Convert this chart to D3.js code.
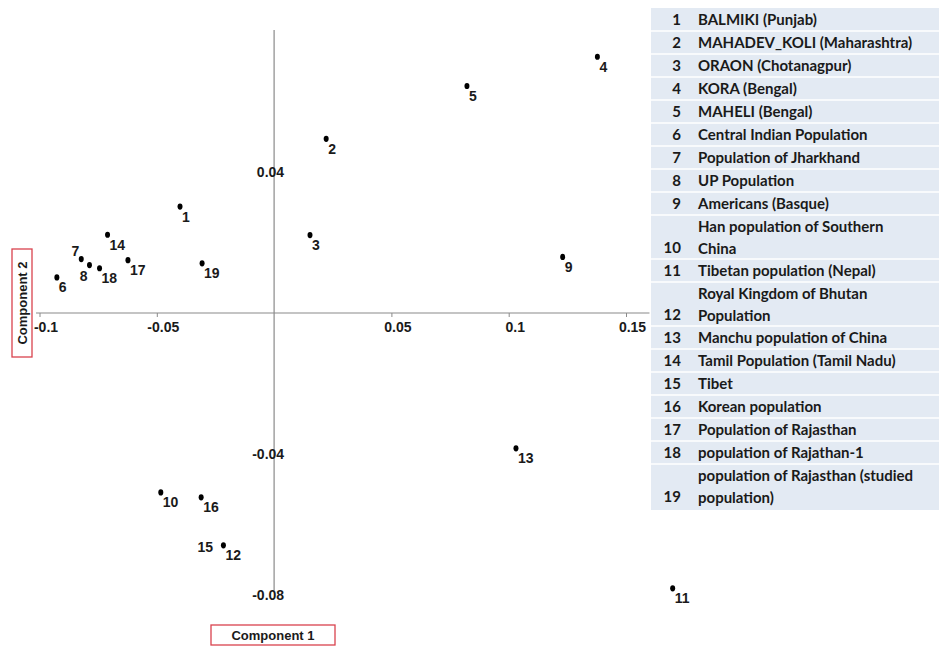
<!DOCTYPE html>
<html>
<head>
<meta charset="utf-8">
<script src="https://cdn.jsdelivr.net/npm/d3@7"></script>
<style>
  html, body { margin: 0; padding: 0; background: #fff; }
  svg { display: block; }
</style>
</head>
<body>
<svg id="chart" width="939" height="646"></svg>
<script>
// ---- data ----
const ids = [1,2,3,4,5,6,7,8,9,10,11,12,13,14,15,16,17,18,19];
const comp1 = [-0.0401, 0.0222, 0.0153, 0.1378, 0.0822, -0.0926, -0.0822, -0.0787, 0.1230, -0.0483, 0.1699, -0.0216, 0.1031, -0.0710, -0.0218, -0.0311, -0.0623, -0.0744, -0.0307];
const comp2 = [0.0302, 0.0494, 0.0221, 0.0727, 0.0644, 0.0101, 0.0153, 0.0136, 0.0159, -0.0509, -0.0781, -0.0659, -0.0384, 0.0222, -0.0657, -0.0523, 0.0150, 0.0127, 0.0141];
const populations = [
  ["BALMIKI (Punjab)"],
  ["MAHADEV_KOLI (Maharashtra)"],
  ["ORAON (Chotanagpur)"],
  ["KORA (Bengal)"],
  ["MAHELI (Bengal)"],
  ["Central Indian Population"],
  ["Population of Jharkhand"],
  ["UP Population"],
  ["Americans (Basque)"],
  ["Han population of Southern", "China"],
  ["Tibetan population (Nepal)"],
  ["Royal Kingdom of Bhutan", "Population"],
  ["Manchu population of China"],
  ["Tamil Population (Tamil Nadu)"],
  ["Tibet"],
  ["Korean population"],
  ["Population of Rajasthan"],
  ["population of Rajathan-1"],
  ["population of Rajasthan (studied", "population)"]
];
const xTicks = [-0.1, -0.05, 0.05, 0.1, 0.15];
const yTicks = [0.04, -0.04, -0.08];
const xTitle = "Component 1";
const yTitle = "Component 2";

// ---- layout ----
const svg = d3.select("#chart");
const x = d3.scaleLinear().domain([-0.1, 0.15]).range([39.5, 626]);
const y = d3.scaleLinear().domain([-0.08, 0.04]).range([595, 172]);
const axisFont = "'Liberation Sans', Arial, sans-serif";
const ink = "#1a1a1a";

// x axis
const gx = svg.append("g").attr("transform", `translate(0,${y(0)})`);
gx.append("line")
  .attr("x1", x(-0.1015)).attr("x2", x(0.16))
  .attr("stroke", "#8a8a8a").attr("stroke-width", 1.2);
const xAxis = d3.axisBottom(x).tickValues(xTicks).tickSize(4).tickSizeOuter(0)
  .tickFormat(d => String(d));
const gxa = gx.append("g").call(xAxis);
gxa.select(".domain").remove();
gxa.selectAll(".tick line").attr("stroke", "#8a8a8a");
gxa.selectAll(".tick text")
  .attr("font-family", axisFont).attr("font-size", 14).attr("font-weight", "bold").attr("fill", ink)
  .attr("dx", 6).attr("dy", "0.85em");

// y axis
const gy = svg.append("g").attr("transform", `translate(${x(0)},0)`);
gy.append("line")
  .attr("y1", y(0.0803)).attr("y2", y(-0.0788))
  .attr("stroke", "#8a8a8a").attr("stroke-width", 1.2);
const yAxis = d3.axisLeft(y).tickValues(yTicks).tickSize(0).tickPadding(0)
  .tickFormat(d => String(d));
const gya = gy.append("g").call(yAxis);
gya.select(".domain").remove();
gya.selectAll(".tick text")
  .attr("font-family", axisFont).attr("font-size", 14).attr("font-weight", "bold").attr("fill", ink)
  .attr("x", 10).attr("dy", "0.35em");

// points
const pts = ids.map((id, i) => ({ id, cx: comp1[i], cy: comp2[i] }));
const labelOffset = { 7: [-2, -3, "end"], 8: [-2, 16, "end"], 15: [-10, 7, "end"] };
svg.append("g").selectAll("ellipse")
  .data(pts.filter(d => d.id !== 15))
  .join("ellipse")
  .attr("cx", d => x(d.cx)).attr("cy", d => y(d.cy))
  .attr("rx", 2.5).attr("ry", 3.1).attr("fill", "#000");
svg.append("g").selectAll("text")
  .data(pts)
  .join("text")
  .attr("x", d => x(d.cx) + (labelOffset[d.id] ? labelOffset[d.id][0] : 2))
  .attr("y", d => y(d.cy) + (labelOffset[d.id] ? labelOffset[d.id][1] : 15))
  .attr("text-anchor", d => labelOffset[d.id] ? labelOffset[d.id][2] : "start")
  .attr("font-family", axisFont).attr("font-size", 14).attr("font-weight", "bold").attr("fill", ink)
  .text(d => d.id);

// axis titles in red boxes
const t1 = svg.append("g").attr("transform", "translate(273,635)");
t1.append("rect").attr("x", -62).attr("y", -10).attr("width", 124).attr("height", 20)
  .attr("fill", "none").attr("stroke", "#d9434e").attr("stroke-width", 1.3);
t1.append("text").attr("text-anchor", "middle").attr("dy", "0.36em")
  .attr("font-family", axisFont).attr("font-size", 13).attr("font-weight", "bold").attr("fill", ink)
  .text(xTitle);
const t2 = svg.append("g").attr("transform", "translate(22,303) rotate(-90)");
t2.append("rect").attr("x", -54).attr("y", -10).attr("width", 108).attr("height", 20)
  .attr("fill", "none").attr("stroke", "#d9434e").attr("stroke-width", 1.3);
t2.append("text").attr("text-anchor", "middle").attr("dy", "0.36em")
  .attr("font-family", axisFont).attr("font-size", 13).attr("font-weight", "bold").attr("fill", ink)
  .text(yTitle);

// table
const tableX = 651, tableTop = 8, singleH = 23, lineH = 22;
const tbl = svg.append("g");
let yy = tableTop;
const rows = populations.map((lines, i) => {
  const h = lines.length === 1 ? singleH : singleH + lineH - 1;
  const r = { id: ids[i], lines, top: yy, h };
  yy += h;
  return r;
});
tbl.append("rect").attr("x", tableX).attr("y", tableTop)
  .attr("width", 939 - tableX).attr("height", yy - tableTop + 2).attr("fill", "#e3eaf3");
const tableFont = "Lato, 'Open Sans', sans-serif";
const rg = tbl.selectAll("g.row").data(rows).join("g").attr("class", "row");
rg.filter((d, i) => i > 0).append("line")
  .attr("x1", tableX).attr("x2", 939)
  .attr("y1", d => d.top).attr("y2", d => d.top)
  .attr("stroke", "#ffffff").attr("stroke-width", 1.5);
rg.append("text")
  .attr("x", 681).attr("y", d => d.top + d.h - 11.5)
  .attr("text-anchor", "end").attr("dy", "0.35em")
  .attr("font-family", tableFont).attr("font-size", 15).attr("font-weight", "bold").attr("fill", ink)
  .text(d => d.id);
rg.each(function(d) {
  d3.select(this).selectAll("text.name").data(d.lines).join("text").attr("class", "name")
    .attr("x", 698)
    .attr("y", (l, j) => d.top + 11.5 + j * lineH)
    .attr("dy", "0.35em")
    .attr("font-family", tableFont).attr("font-size", 15).attr("font-weight", "bold").attr("fill", ink)
    .text(l => l);
});
</script>
</body>
</html>
